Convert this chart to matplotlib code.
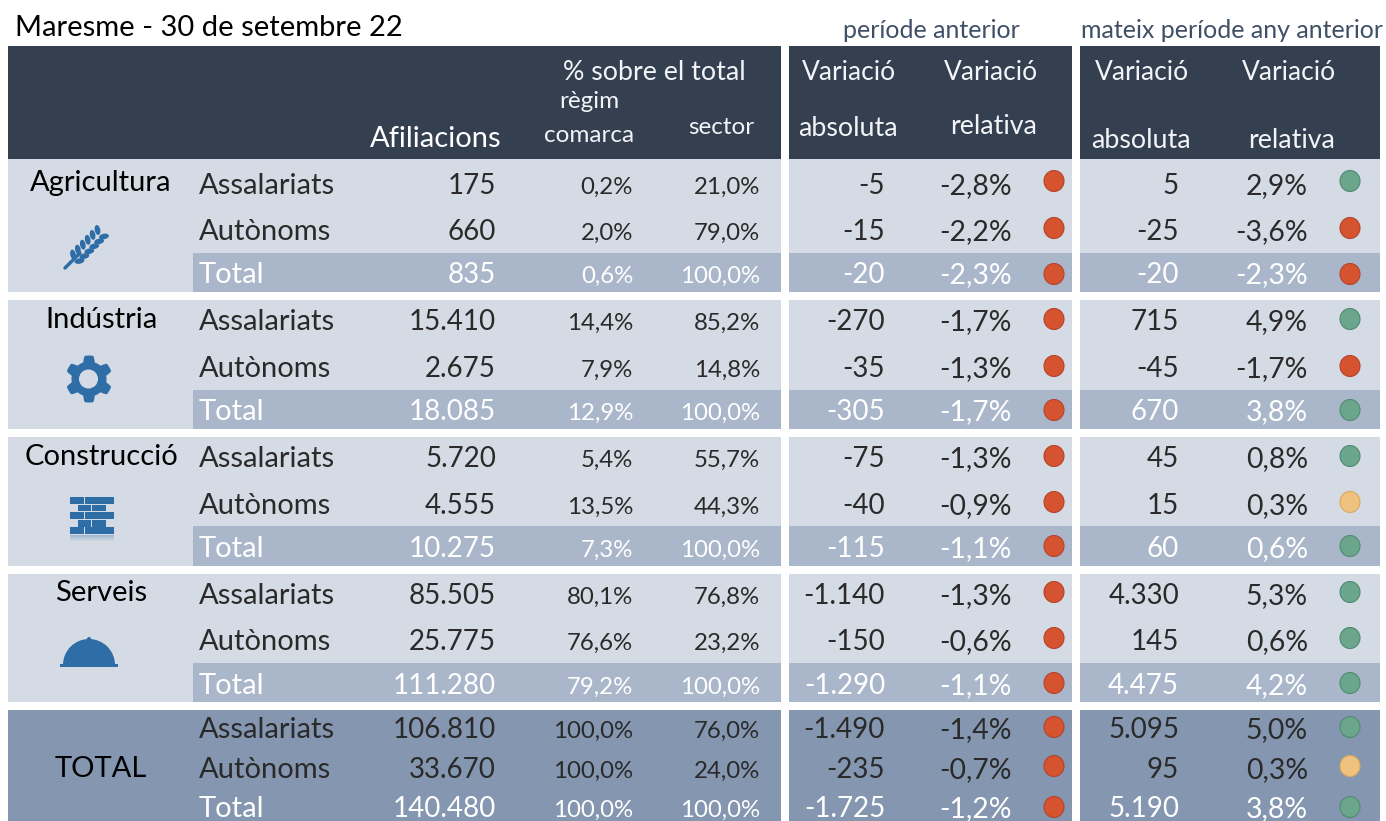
import numpy as np
import matplotlib
matplotlib.use("Agg")
import matplotlib.pyplot as plt
from matplotlib.patches import Rectangle, Ellipse, Polygon, Circle, Wedge

plt.rcParams['font.family'] = ['Lato', 'DejaVu Sans']

sectors = ["Agricultura", "Indústria", "Construcció", "Serveis", "TOTAL"]
rows = ["Assalariats", "Autònoms", "Total"]

afiliacions = ["175", "660", "835", "15.410", "2.675", "18.085", "5.720", "4.555", "10.275",
               "85.505", "25.775", "111.280", "106.810", "33.670", "140.480"]
pct_comarca = ["0,2%", "2,0%", "0,6%", "14,4%", "7,9%", "12,9%", "5,4%", "13,5%", "7,3%",
               "80,1%", "76,6%", "79,2%", "100,0%", "100,0%", "100,0%"]
pct_sector = ["21,0%", "79,0%", "100,0%", "85,2%", "14,8%", "100,0%", "55,7%", "44,3%", "100,0%",
              "76,8%", "23,2%", "100,0%", "76,0%", "24,0%", "100,0%"]
abs_prev = ["-5", "-15", "-20", "-270", "-35", "-305", "-75", "-40", "-115",
            "-1.140", "-150", "-1.290", "-1.490", "-235", "-1.725"]
rel_prev = ["-2,8%", "-2,2%", "-2,3%", "-1,7%", "-1,3%", "-1,7%", "-1,3%", "-0,9%", "-1,1%",
            "-1,3%", "-0,6%", "-1,1%", "-1,4%", "-0,7%", "-1,2%"]
abs_year = ["5", "-25", "-20", "715", "-45", "670", "45", "15", "60",
            "4.330", "145", "4.475", "5.095", "95", "5.190"]
rel_year = ["2,9%", "-3,6%", "-2,3%", "4,9%", "-1,7%", "3,8%", "0,8%", "0,3%", "0,6%",
            "5,3%", "0,6%", "4,2%", "5,0%", "0,3%", "3,8%"]
dots_prev = ["r"] * 15
dots_year = ["g", "r", "r", "g", "r", "g", "g", "y", "g", "g", "g", "g", "g", "y", "g"]

# layout in pixels of the reference
W, H = 1386, 821
dark = "#343F50"
light = "#D5DBE4"
mid = "#AAB7CA"
deep = "#8496B0"
blue = "#2F6DA6"
ink = "#2A2A2A"
dot_col = {"r": "#D5532F", "g": "#6BA58C", "y": "#F0C27F"}
dot_edge = {"r": "#B5432A", "g": "#4F8A72", "y": "#D9A860"}

panels = [(8, 781), (789, 1072), (1080, 1380)]
groups = [(159, 292), (300, 429), (437, 566), (574, 702), (710, 821)]
row_y = [186, 232, 275, 322, 369, 412, 459, 506, 549, 596, 642, 686, 730, 770, 809]
dot_y = [181, 228, 274, 319, 366, 410, 456, 502, 546, 592, 638, 683, 727, 766, 807]
total_top = [253, 390, 526, 663]

fig = plt.figure(figsize=(W / 100, H / 100), dpi=100)
ax = fig.add_axes([0, 0, 1, 1])
ax.set_xlim(0, W)
ax.set_ylim(H, 0)
ax.axis("off")


def box(x0, x1, y0, y1, c, z=1):
    ax.add_patch(Rectangle((x0, y0), x1 - x0, y1 - y0, fc=c, ec="none", zorder=z))


def txt(x, y, s, size=20, c=ink, ha="right", w="normal"):
    ax.text(x, y, s, fontsize=size, color=c, ha=ha, va="center", fontweight=w, zorder=5)


# backgrounds
for x0, x1 in panels:
    box(x0, x1, 46, 159, dark)
    for i, (y0, y1) in enumerate(groups):
        box(x0, x1, y0, y1, deep if i == 4 else light)
    for t, (y0, y1) in zip(total_top, groups):
        box(max(x0, 193), x1, t, y1, mid, 2)

# title and headers
txt(15, 28, "Maresme - 30 de setembre 22", 21, "#000000", "left")
txt(931, 30, "període anterior", 18, "#3F4F66", "center")
txt(1232, 30, "mateix període any anterior", 18, "#3F4F66", "center")

white = "#F2F4F7"
txt(436, 139, "Afiliacions", 21, "white", "center")
txt(654, 72, "% sobre el total", 19.3, white, "center")
txt(589, 102, "règim", 17.5, white, "center")
txt(589, 136, "comarca", 17.5, white, "center")
txt(721, 127, "sector", 17.5, white, "center")
txt(849, 72, "Variació", 19, white, "center")
txt(991, 72, "Variació", 19, white, "center")
txt(848, 128, "absoluta", 19.3, white, "center")
txt(994, 126, "relativa", 19.3, white, "center")
txt(1142, 72, "Variació", 19, white, "center")
txt(1289, 72, "Variació", 19, white, "center")
txt(1141, 140, "absoluta", 19.3, white, "center")
txt(1292, 140, "relativa", 19.3, white, "center")

# sector names
name_y = [183, 320, 457, 593, 769]
name_x = [101, 101, 101, 101, 101]
for s, x, y in zip(sectors, name_x, name_y):
    txt(x, y, s, 21, "#000000", "center")

# table cells
for i in range(15):
    y = row_y[i]
    is_total = i % 3 == 2
    c = "white" if is_total else ink
    txt(199, y, rows[i % 3], 21, c, "left")
    txt(496, y, afiliacions[i], 20, c)
    txt(633, y + 1, pct_comarca[i], 17.3, c)
    txt(760, y + 1, pct_sector[i], 17.3, c)
    txt(885, y, abs_prev[i], 20, c)
    txt(1012, y, rel_prev[i], 20.4, c)
    txt(1179, y, abs_year[i], 20, c)
    txt(1308, y, rel_year[i], 20.4, c)
    for x, k in ((1054, dots_prev[i]), (1350, dots_year[i])):
        ax.add_patch(Ellipse((x, dot_y[i]), 20, 21, fc=dot_col[k], ec=dot_edge[k], lw=0.8, zorder=4))

# wheat icon
ax.plot([65, 80], [268, 253], color=blue, lw=2.5, solid_capstyle="round", zorder=4)
for d in range(6):
    cx, cy = 76 + d * 4.9, 258 - d * 4.9
    ax.add_patch(Ellipse((cx - 3, cy - 3.5), 5.5, 10, angle=-12, fc=blue, ec="none", zorder=4))
    ax.add_patch(Ellipse((cx + 3.5, cy + 3), 10, 5.5, angle=-12, fc=blue, ec="none", zorder=4))

# gear icon
theta = np.linspace(0, 2 * np.pi, 241)
radius = np.clip(20.5 + 7 * np.cos(6 * theta), 17.5, 23.5)
ax.add_patch(Polygon(np.c_[89 + radius * np.sin(theta), 379 + radius * np.cos(theta)], fc=blue, ec="none", zorder=4))
ax.add_patch(Circle((88.5, 379), 9.5, fc=light, ec="none", zorder=5))

# bricks icon
for r in range(5):
    by = 497 + r * 7.6
    if r % 2 == 0:
        xs = [(69.5, 84), (84.8, 98.5), (99.3, 114)]
    else:
        xs = [(77.5, 91), (91.8, 105.5)]
    for a, b in xs:
        box(a, b, by, by + 6.8, blue, 4)
for k in range(6):
    box(69.5, 114, 535 + k, 536 + k, matplotlib.colors.to_rgba(blue, 0.3 - k * 0.05), 4)

# cloche icon
ax.add_patch(Wedge((89, 665), 26, 180, 360, fc=blue, ec="none", zorder=4))
ax.add_patch(Rectangle((60, 664), 58, 3.5, fc=blue, ec="none", zorder=4))
ax.add_patch(Circle((89, 639), 2, fc=blue, ec="none", zorder=4))

fig.savefig("out.png", dpi=100)
